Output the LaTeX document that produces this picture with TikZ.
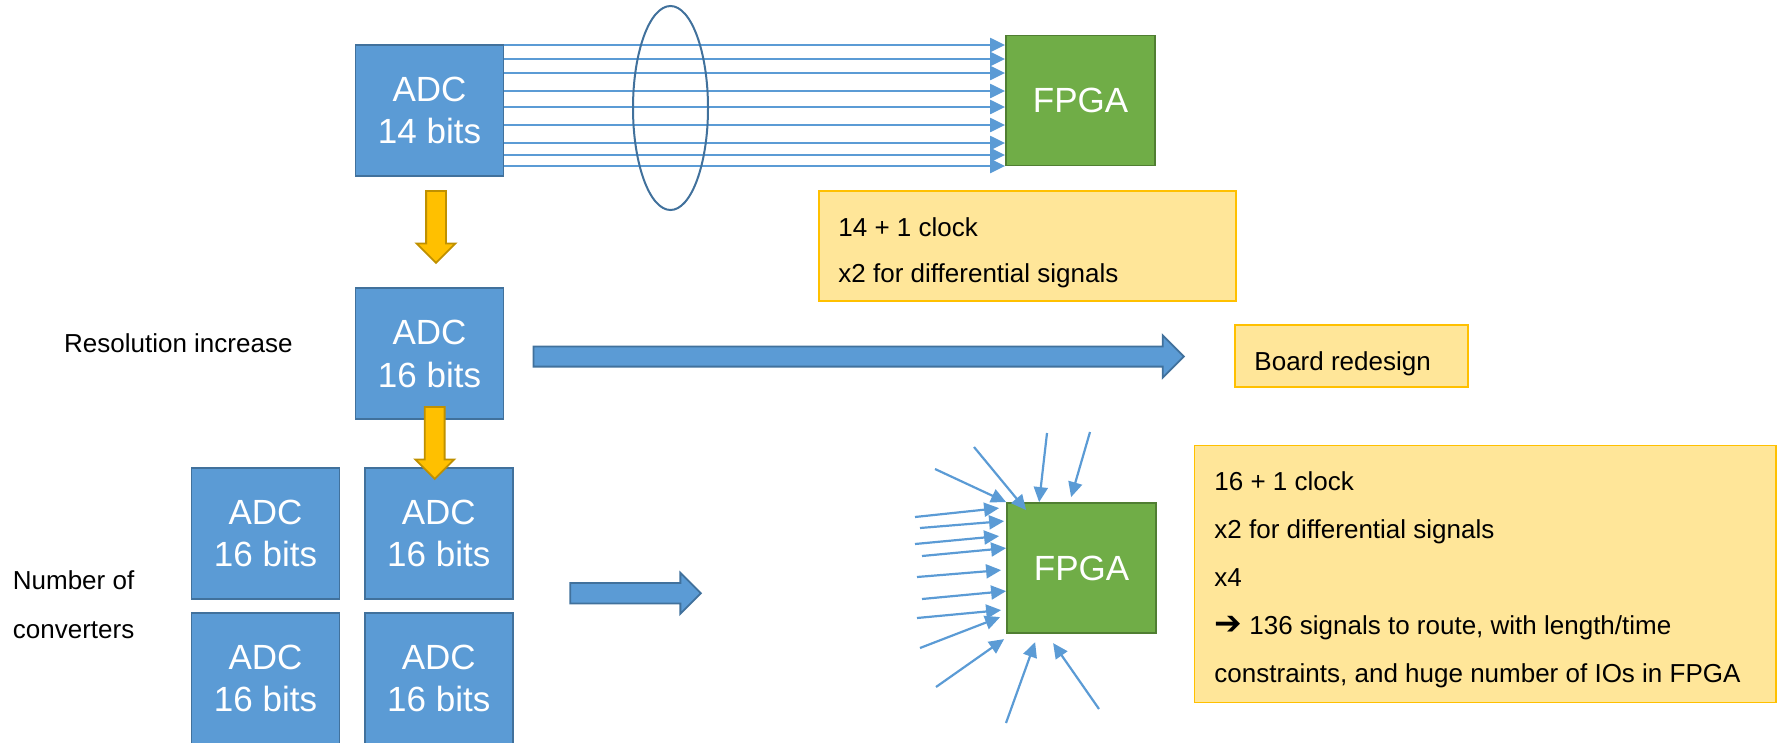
\documentclass[tikz,border=0pt]{standalone}
\usepackage{fontspec}
\setmainfont{Liberation Sans}
\newfontfamily\symfont{DejaVu Sans}
\usetikzlibrary{positioning,shapes.geometric,shapes.arrows,arrows.meta}
\definecolor{adcblue}{HTML}{5B9BD5}
\definecolor{adcedge}{HTML}{41719C}
\definecolor{fpgagreen}{HTML}{70AD47}
\definecolor{fpgaedge}{HTML}{507E32}
\definecolor{notefill}{HTML}{FFE699}
\definecolor{noteedge}{HTML}{FFC000}
\definecolor{growyellow}{HTML}{FFC000}
\definecolor{growedge}{HTML}{BF9000}

\begin{document}
\begin{tikzpicture}[x=1pt,y=-1pt,
    adc/.style={draw=adcedge,fill=adcblue,line width=1.8pt,minimum width=148pt,minimum height=131pt,
      inner sep=0pt,text=white,align=center,font=\fontsize{35}{42.6}\selectfont},
    fpga/.style={adc,draw=fpgaedge,fill=fpgagreen,minimum width=149pt,minimum height=130pt},
    note/.style={draw=noteedge,fill=notefill,line width=1.5pt,inner sep=0pt},
    notetext/.style={anchor=base west,inner sep=0pt,font=\fontsize{26}{31}\selectfont},
    wire/.style={draw=adcblue,line width=2.2pt,-{Triangle[length=15pt,width=14pt]}},
    blockarrow/.style={single arrow,single arrow tip angle=90,draw=adcedge,fill=adcblue,
      line width=1.8pt,inner xsep=0pt,anchor=tail},
    growarrow/.style={blockarrow,draw=growedge,fill=growyellow,rotate=-90,inner ysep=9pt,
      minimum height=72pt,minimum width=37pt,single arrow head extend=9.5pt}]

\useasboundingbox (0,0) rectangle (1777,742);

% first design: one 14 bit ADC
\node[adc] (adcA) at (429.5,110.5) {ADC\\14 bits};
\node[fpga] (fpgaA) at (1080.5,100.5) {FPGA};
\foreach \y in {45,59,73,91,107,125,143,155,166}
  \draw[wire] (adcA.east |- 0,\y) -- (fpgaA.west |- 0,\y);
\node[ellipse,draw=adcedge,line width=2pt,minimum width=75pt,minimum height=204pt,inner sep=0pt] (bundle) at (670.5,108) {};
\node[note,minimum width=417pt,minimum height=110pt] (noteA) at (1027.5,246) {};
\node[notetext] (noteA1) at ([shift={(20,46)}]noteA.north west) {14 + 1 clock};
\node[notetext] (noteA2) at ([shift={(20,92)}]noteA.north west) {x2 for differential signals};

% resolution increase
\node[growarrow] (growA) at (436,190) {};
\node[adc,below=110.5pt of adcA] (adcB) {ADC\\16 bits};
\node[notetext] (resol) at (64,352.7) {Resolution increase};
\node[blockarrow,inner ysep=9.2pt,minimum height=650.5pt,minimum width=40.7pt,single arrow head extend=11pt] (redesign) at (532.5,356.5) {};
\node[note,minimum width=233pt,minimum height=62pt] (noteB) at (1351.5,356) {};
\node[notetext] (noteB1) at ([shift={(20,46.3)}]noteB.north west) {Board redesign};

% number of converters
\node[adc] (adcC) at (265.5,533.5) {ADC\\16 bits};
\node[adc,right=23.5pt of adcC] (adcD) {ADC\\16 bits};
\node[adc,below=12pt of adcC] (adcE) {ADC\\16 bits};
\node[adc,below=12pt of adcD] (adcF) {ADC\\16 bits};
\node[growarrow] (growB) at (434.7,406) {};
\node[notetext] (count1) at (12.7,589.3) {Number of};
\node[notetext] (count2) at (12.7,638.3) {converters};
\node[blockarrow,inner ysep=9.35pt,minimum height=130.7pt,minimum width=39.3pt,single arrow head extend=10.3pt] (more) at (569.3,593.3) {};
\node[fpga] (fpgaB) at (1081.5,568) {FPGA};
\foreach \tx/\ty/\hx/\hy [count=\i] in {974/447/20/8, 1047/433/33/0, 1090/432/65/-5, 935/469/0/0,
    915/517/-7/6, 920/528/-2/19, 915/544/-7/34, 922/556/0/46, 917/577/-5/68, 922/599/0/89,
    917/618/-5/108, 920/648/-6/115, 936/687/-2/137, 1006/723/29/140, 1099/709/47/141}{
  \coordinate (pin\i) at (\tx,\ty);
  \draw[wire] (pin\i) -- ([shift={(\hx,\hy)}]fpgaB.north west);
}
\node[note,minimum width=581.5pt,minimum height=256.6pt] (noteC) at (1485.25,574) {};
\node[notetext] (noteC1) at ([shift={(20.5,46)}]noteC.north west) {16 + 1 clock};
\node[notetext] (noteC2) at ([shift={(20.5,94)}]noteC.north west) {x2 for differential signals};
\node[notetext] (noteC3) at ([shift={(20.5,142)}]noteC.north west) {x4};
\node[notetext] (noteC4) at ([shift={(20.5,190)}]noteC.north west) {{\symfont\fontsize{33}{31}\selectfont ➔} 136 signals to route, with length/time};
\node[notetext] (noteC5) at ([shift={(20.5,238)}]noteC.north west) {constraints, and huge number of IOs in FPGA};
\end{tikzpicture}
\end{document}
